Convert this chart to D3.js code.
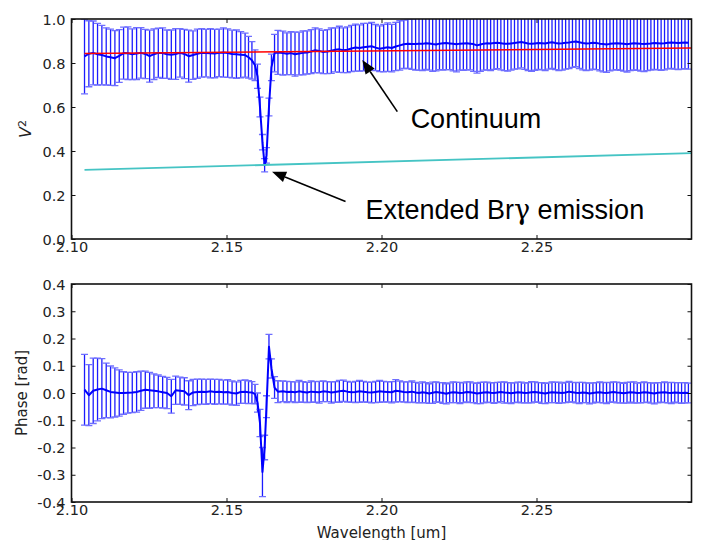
<!DOCTYPE html>
<html><head><meta charset="utf-8">
<script src="https://cdn.jsdelivr.net/npm/d3@7/dist/d3.min.js"></script>
<style>
html,body{margin:0;padding:0;background:#fff;}
svg{display:block;}
</style></head>
<body>
<svg id="chart" width="702" height="540"></svg>
<script>
// ---------------- DATA ----------------
const wavelength = [
  2.1042, 2.1056, 2.1070, 2.1084, 2.1098, 2.1112, 2.1126, 2.1140, 2.1154, 2.1168,
  2.1182, 2.1196, 2.1210, 2.1224, 2.1238, 2.1252, 2.1266, 2.1280, 2.1294, 2.1308,
  2.1322, 2.1336, 2.1350, 2.1364, 2.1378, 2.1392, 2.1406, 2.1420, 2.1434, 2.1448,
  2.1462, 2.1476, 2.1490, 2.1504, 2.1518, 2.1532, 2.1546, 2.1560,
  2.1571, 2.1582, 2.1592, 2.1600, 2.1608, 2.1616, 2.1623, 2.1629, 2.1637, 2.1645, 2.1655, 2.1666,
  2.1682, 2.1695, 2.1708, 2.1721, 2.1734, 2.1747, 2.1760, 2.1773, 2.1786, 2.1799,
  2.1812, 2.1825, 2.1838, 2.1851, 2.1864, 2.1877, 2.1890, 2.1903, 2.1916, 2.1929,
  2.1942, 2.1955, 2.1968, 2.1981, 2.1994, 2.2007, 2.2020, 2.2033, 2.2046, 2.2059,
  2.2072, 2.2085, 2.2098,
  2.2110, 2.2121, 2.2132, 2.2143, 2.2154, 2.2165, 2.2176, 2.2187, 2.2198, 2.2209,
  2.2220, 2.2231, 2.2242, 2.2253, 2.2264, 2.2275, 2.2286, 2.2297, 2.2308, 2.2319,
  2.2330, 2.2341, 2.2352, 2.2363, 2.2374, 2.2385, 2.2396, 2.2407, 2.2418, 2.2429,
  2.2440, 2.2451, 2.2462, 2.2473, 2.2484, 2.2495, 2.2506, 2.2517, 2.2528, 2.2539,
  2.2550, 2.2561, 2.2572, 2.2583, 2.2594, 2.2605, 2.2616, 2.2627, 2.2638, 2.2649,
  2.2660, 2.2671, 2.2682, 2.2693, 2.2704, 2.2715, 2.2726, 2.2737, 2.2748, 2.2759,
  2.2770, 2.2781, 2.2792, 2.2803, 2.2814, 2.2825, 2.2836, 2.2847, 2.2858, 2.2869,
  2.2880, 2.2891, 2.2902, 2.2913, 2.2924, 2.2935, 2.2946, 2.2957, 2.2968, 2.2979,
  2.2990
];
const v2 = [
  0.830, 0.842, 0.846, 0.840, 0.836, 0.830, 0.826, 0.822, 0.832, 0.845,
  0.844, 0.840, 0.843, 0.846, 0.841, 0.831, 0.840, 0.846, 0.845, 0.840,
  0.838, 0.841, 0.846, 0.841, 0.831, 0.836, 0.842, 0.846, 0.845, 0.844,
  0.843, 0.846, 0.848, 0.845, 0.841, 0.840, 0.838, 0.836,
  0.826, 0.812, 0.790, 0.740, 0.600, 0.440, 0.335, 0.380, 0.600, 0.780, 0.845, 0.848,
  0.845, 0.842, 0.845, 0.840, 0.843, 0.846, 0.848, 0.852, 0.858, 0.855,
  0.850, 0.852, 0.856, 0.860, 0.862, 0.858, 0.860, 0.866, 0.870, 0.868,
  0.872, 0.874, 0.876, 0.870, 0.865, 0.868, 0.872, 0.868, 0.875, 0.880,
  0.885, 0.887, 0.886,
  0.886, 0.888, 0.887, 0.890, 0.889, 0.886, 0.884, 0.888, 0.890, 0.891,
  0.889, 0.887, 0.885, 0.888, 0.889, 0.890, 0.888, 0.886, 0.880, 0.884,
  0.888, 0.890, 0.889, 0.891, 0.892, 0.890, 0.888, 0.887, 0.889, 0.891,
  0.893, 0.895, 0.892, 0.889, 0.887, 0.889, 0.891, 0.890, 0.889, 0.892,
  0.894, 0.891, 0.889, 0.890, 0.892, 0.893, 0.896, 0.898, 0.894, 0.891,
  0.889, 0.890, 0.892, 0.891, 0.888, 0.886, 0.884, 0.887, 0.889, 0.890,
  0.889, 0.887, 0.885, 0.888, 0.890, 0.889, 0.887, 0.886, 0.888, 0.889,
  0.891, 0.890, 0.889, 0.890, 0.892, 0.893, 0.892, 0.891, 0.892, 0.893,
  0.892
];
const v2Err = [
  0.170, 0.150, 0.145, 0.140, 0.135, 0.130, 0.128, 0.125, 0.120, 0.118,
  0.120, 0.115, 0.118, 0.115, 0.112, 0.118, 0.115, 0.112, 0.115, 0.110,
  0.112, 0.115, 0.110, 0.112, 0.118, 0.110, 0.112, 0.110, 0.108, 0.112,
  0.110, 0.108, 0.112, 0.110, 0.108, 0.110, 0.105, 0.100,
  0.095, 0.085, 0.070, 0.055, 0.045, 0.035, 0.030, 0.035, 0.040, 0.060, 0.085, 0.100,
  0.100, 0.095, 0.098, 0.100, 0.097, 0.100, 0.098, 0.100, 0.102, 0.100,
  0.098, 0.100, 0.103, 0.100, 0.105, 0.102, 0.104, 0.105, 0.107, 0.105,
  0.108, 0.106, 0.108, 0.105, 0.104, 0.108, 0.110, 0.108, 0.110, 0.112,
  0.110, 0.112, 0.115,
  0.118, 0.120, 0.122, 0.119, 0.121, 0.124, 0.120, 0.118, 0.122, 0.121,
  0.119, 0.123, 0.125, 0.120, 0.122, 0.121, 0.119, 0.124, 0.126, 0.122,
  0.120, 0.121, 0.123, 0.120, 0.118, 0.121, 0.123, 0.124, 0.121, 0.119,
  0.120, 0.117, 0.121, 0.123, 0.125, 0.122, 0.120, 0.121, 0.123, 0.120,
  0.118, 0.121, 0.124, 0.122, 0.120, 0.119, 0.116, 0.115, 0.119, 0.122,
  0.124, 0.122, 0.120, 0.121, 0.124, 0.126, 0.127, 0.123, 0.121, 0.120,
  0.122, 0.124, 0.126, 0.123, 0.121, 0.122, 0.124, 0.125, 0.123, 0.121,
  0.120, 0.121, 0.122, 0.121, 0.119, 0.118, 0.120, 0.121, 0.120, 0.119,
  0.120
];
const phase = [
  0.012, -0.008, 0.008, 0.013, 0.016, 0.010, 0.004, 0.002, 0.000, 0.000,
  0.001, 0.002, 0.004, 0.008, 0.012, 0.010, 0.008, 0.006, 0.003, 0.000,
  -0.012, 0.010, 0.008, 0.006, -0.008, 0.002, 0.004, 0.005, 0.004, 0.006,
  0.004, 0.005, 0.003, 0.004, 0.000, -0.002, 0.004, 0.005,
  0.003, 0.002, -0.004, -0.035, -0.110, -0.290, -0.200, -0.050, 0.170, 0.090, 0.020, 0.005,
  0.006, 0.004, 0.005, 0.003, 0.006, 0.004, 0.002, 0.005, 0.004, 0.003,
  0.006, 0.005, 0.002, 0.004, 0.006, 0.008, 0.005, 0.003, 0.004, 0.006,
  0.005, 0.003, 0.002, 0.004, 0.006, 0.005, 0.004, 0.003, 0.008, 0.006,
  0.004, 0.003, 0.005,
  0.002, 0.000, 0.003, 0.001, -0.002, 0.001, 0.004, 0.002, 0.000, -0.003,
  0.001, 0.003, 0.002, 0.000, 0.001, 0.004, 0.003, 0.001, -0.002, 0.000,
  0.002, 0.003, 0.001, 0.000, 0.002, 0.004, 0.002, 0.001, -0.001, 0.001,
  0.003, 0.002, 0.000, 0.001, 0.003, 0.004, 0.002, 0.000, -0.002, 0.001,
  0.003, 0.002, 0.001, 0.000, 0.002, 0.005, 0.003, 0.001, 0.000, 0.002,
  0.001, -0.002, 0.000, 0.002, 0.003, 0.001, 0.000, 0.002, 0.004, 0.002,
  0.001, -0.001, 0.001, 0.003, 0.002, 0.000, 0.001, 0.003, 0.002, 0.000,
  -0.002, 0.001, 0.002, 0.003, 0.001, 0.000, 0.002, 0.001, 0.000, 0.001,
  0.000
];
const phaseErr = [
  0.130, 0.112, 0.120, 0.115, 0.110, 0.100, 0.095, 0.090, 0.085, 0.078,
  0.075, 0.074, 0.074, 0.072, 0.068, 0.066, 0.062, 0.060, 0.058, 0.057,
  0.062, 0.052, 0.050, 0.050, 0.053, 0.048, 0.047, 0.046, 0.046, 0.045,
  0.046, 0.045, 0.044, 0.045, 0.044, 0.043, 0.042, 0.043,
  0.042, 0.040, 0.036, 0.035, 0.050, 0.090, 0.045, 0.040, 0.045, 0.035, 0.040, 0.040,
  0.038, 0.039, 0.037, 0.038, 0.040, 0.038, 0.037, 0.039, 0.038, 0.040,
  0.038, 0.037, 0.039, 0.038, 0.040, 0.039, 0.038, 0.037, 0.039, 0.040,
  0.038, 0.037, 0.038, 0.039, 0.040, 0.038, 0.037, 0.039, 0.041, 0.038,
  0.037, 0.038, 0.039,
  0.037, 0.036, 0.038, 0.037, 0.036, 0.039, 0.037, 0.036, 0.038, 0.037,
  0.036, 0.038, 0.037, 0.039, 0.036, 0.037, 0.038, 0.036, 0.037, 0.039,
  0.038, 0.037, 0.036, 0.038, 0.037, 0.036, 0.039, 0.037, 0.038, 0.036,
  0.037, 0.038, 0.036, 0.037, 0.039, 0.037, 0.036, 0.038, 0.037, 0.036,
  0.038, 0.037, 0.039, 0.036, 0.037, 0.038, 0.036, 0.037, 0.039, 0.037,
  0.036, 0.038, 0.037, 0.036, 0.038, 0.037, 0.039, 0.036, 0.037, 0.038,
  0.037, 0.036, 0.038, 0.037, 0.039, 0.036, 0.037, 0.038, 0.036, 0.037,
  0.038, 0.037, 0.036, 0.038, 0.037, 0.039, 0.036, 0.037, 0.038, 0.037,
  0.036
];
// straight-line model fits (wavelength endpoints, V^2 values)
const fitWavelength = [2.1042, 2.30];
const continuumFit = [0.843, 0.868];
const extendedFit = [0.314, 0.390];

const xTicks = [2.10, 2.15, 2.20, 2.25];
const v2Ticks = [0.0, 0.2, 0.4, 0.6, 0.8, 1.0];
const phaseTicks = [-0.4, -0.3, -0.2, -0.1, 0.0, 0.1, 0.2, 0.3, 0.4];

// annotations: text anchor (λ, V²), arrow tail (λ, V²), arrow tip (λ, V²)
const annContinuum = {parts: [["Continuum", null]], at: [2.2094, 0.505], tail: [2.2051, 0.579], tip: [2.1938, 0.814]};
const annBrg = {parts: [["Extended Br", null], ["γ", "DejaVu Serif"], [" emission", null]], at: [2.1948, 0.089], tail: [2.1884, 0.170], tip: [2.1647, 0.306]};

// ---------------- DRAW ----------------
const svg = d3.select("#chart");
const L = 71.5, R = 691.5;
const top1 = 19, bot1 = 239, top2 = 284, bot2 = 502;
const x = d3.scaleLinear().domain([2.10, 2.30]).range([L, R]);
const yV = d3.scaleLinear().domain([0, 1]).range([bot1, top1]);
const yP = d3.scaleLinear().domain([-0.4, 0.4]).range([bot2, top2]);

const pts = wavelength.map((w, i) => ({w, v: v2[i], ve: v2Err[i], p: phase[i], pe: phaseErr[i]}));

const defs = svg.append("defs");
defs.append("clipPath").attr("id", "clip1").append("rect")
  .attr("x", L).attr("y", top1).attr("width", R - L).attr("height", bot1 - top1);
defs.append("clipPath").attr("id", "clip2").append("rect")
  .attr("x", L).attr("y", top2).attr("width", R - L).attr("height", bot2 - top2);

const tickFont = "DejaVu Sans, sans-serif";
const textCol = "#222";

function drawErrorPanel(y, clipId, valKey, errKey) {
  const g = svg.append("g").attr("clip-path", `url(#${clipId})`);
  const cap = 3.5;
  g.selectAll("line.bar").data(pts).join("line").attr("class", "bar")
    .attr("x1", d => x(d.w)).attr("x2", d => x(d.w))
    .attr("y1", d => y(d[valKey] - d[errKey])).attr("y2", d => y(d[valKey] + d[errKey]))
    .attr("stroke", "#1c1cff").attr("stroke-width", 1.3);
  g.selectAll("line.capT").data(pts).join("line").attr("class", "capT")
    .attr("x1", d => x(d.w) - cap).attr("x2", d => x(d.w) + cap)
    .attr("y1", d => y(d[valKey] + d[errKey])).attr("y2", d => y(d[valKey] + d[errKey]))
    .attr("stroke", "#6f6fff").attr("stroke-width", 1.3);
  g.selectAll("line.capB").data(pts).join("line").attr("class", "capB")
    .attr("x1", d => x(d.w) - cap).attr("x2", d => x(d.w) + cap)
    .attr("y1", d => y(d[valKey] - d[errKey])).attr("y2", d => y(d[valKey] - d[errKey]))
    .attr("stroke", "#6f6fff").attr("stroke-width", 1.3);
  g.append("path").datum(pts)
    .attr("d", d3.line().x(d => x(d.w)).y(d => y(d[valKey])))
    .attr("fill", "none").attr("stroke", "#0000ff").attr("stroke-width", 2)
    .attr("stroke-linejoin", "round");
  return g;
}

// top panel
const g1 = drawErrorPanel(yV, "clip1", "v", "ve");
const fitLine = d3.line().x(d => x(d[0])).y(d => yV(d[1]));
g1.append("path").datum(fitWavelength.map((w, i) => [w, continuumFit[i]]))
  .attr("d", fitLine).attr("fill", "none").attr("stroke", "#ff0000").attr("stroke-width", 1.6);
g1.append("path").datum(fitWavelength.map((w, i) => [w, extendedFit[i]]))
  .attr("d", fitLine).attr("fill", "none").attr("stroke", "#45c4c4").attr("stroke-width", 1.8);

// bottom panel
drawErrorPanel(yP, "clip2", "p", "pe");

function frame(y, yt, y0, y1, fmt) {
  const ax = svg.append("g").attr("transform", `translate(0,${y0})`)
    .call(d3.axisBottom(x).tickValues(xTicks).tickSizeInner(-4).tickSizeOuter(0).tickPadding(3)
      .tickFormat(d => d.toFixed(2)));
  const axT = svg.append("g").attr("transform", `translate(0,${y1})`)
    .call(d3.axisTop(x).tickValues(xTicks).tickSizeInner(-4).tickSizeOuter(0).tickFormat(""));
  const ay = svg.append("g").attr("transform", `translate(${L},0)`)
    .call(d3.axisLeft(y).tickValues(yt).tickSizeInner(-4).tickSizeOuter(0).tickPadding(6)
      .tickFormat(fmt));
  const ayR = svg.append("g").attr("transform", `translate(${R},0)`)
    .call(d3.axisRight(y).tickValues(yt).tickSizeInner(-4).tickSizeOuter(0).tickFormat(""));
  [ax, axT, ay, ayR].forEach(a => {
    a.select(".domain").remove();
    a.selectAll(".tick line").attr("stroke", "#111").attr("stroke-width", 1);
    a.selectAll(".tick text").attr("fill", textCol).style("font-family", tickFont).style("font-size", "14.5px");
  });
  ay.selectAll(".tick text").attr("dy", "0.36em");
  svg.append("rect").attr("x", L).attr("y", y1).attr("width", R - L).attr("height", y0 - y1)
    .attr("fill", "none").attr("stroke", "#111").attr("stroke-width", 1.6);
}
frame(yV, v2Ticks, bot1, top1, d => d.toFixed(1));
frame(yP, phaseTicks, bot2, top2, d => d.toFixed(1));

// axis labels
const vlab = svg.append("text").attr("transform", `translate(31,${(top1 + bot1) / 2}) rotate(-90)`)
  .attr("text-anchor", "middle").attr("fill", textCol)
  .style("font-family", tickFont).style("font-size", "16px");
vlab.append("tspan").style("font-style", "italic").text("V");
vlab.append("tspan").attr("dy", "-0.45em").style("font-size", "11px").text("2");

svg.append("text").attr("transform", `translate(27,${(top2 + bot2) / 2}) rotate(-90)`)
  .attr("text-anchor", "middle").attr("fill", textCol)
  .style("font-family", tickFont).style("font-size", "15px").text("Phase [rad]");
svg.append("text").attr("x", (L + R) / 2).attr("y", 538)
  .attr("text-anchor", "middle").attr("fill", textCol)
  .style("font-family", tickFont).style("font-size", "15px").text("Wavelength [um]");

// annotations
function annotate(a) {
  const tx = x(a.tail[0]), ty = yV(a.tail[1]);
  const px = x(a.tip[0]), py = yV(a.tip[1]);
  const ang = Math.atan2(py - ty, px - tx);
  const hl = 14, hw = 5.5;
  const bx = px - hl * Math.cos(ang), by = py - hl * Math.sin(ang);
  svg.append("line").attr("x1", tx).attr("y1", ty).attr("x2", bx).attr("y2", by)
    .attr("stroke", "#000").attr("stroke-width", 1.6);
  const nx = -Math.sin(ang), ny = Math.cos(ang);
  svg.append("path")
    .attr("d", `M${px},${py}L${bx + nx * hw},${by + ny * hw}L${bx - nx * hw},${by - ny * hw}Z`)
    .attr("fill", "#000");
  const t = svg.append("text").attr("x", x(a.at[0])).attr("y", yV(a.at[1]))
    .attr("fill", "#000").style("font-family", "Liberation Sans, Arial, sans-serif")
    .style("font-size", "27px");
  a.parts.forEach(([s, f]) => {
    const sp = t.append("tspan").text(s);
    if (f) sp.style("font-family", f);
  });
}
annotate(annContinuum);
annotate(annBrg);
</script>
</body></html>
